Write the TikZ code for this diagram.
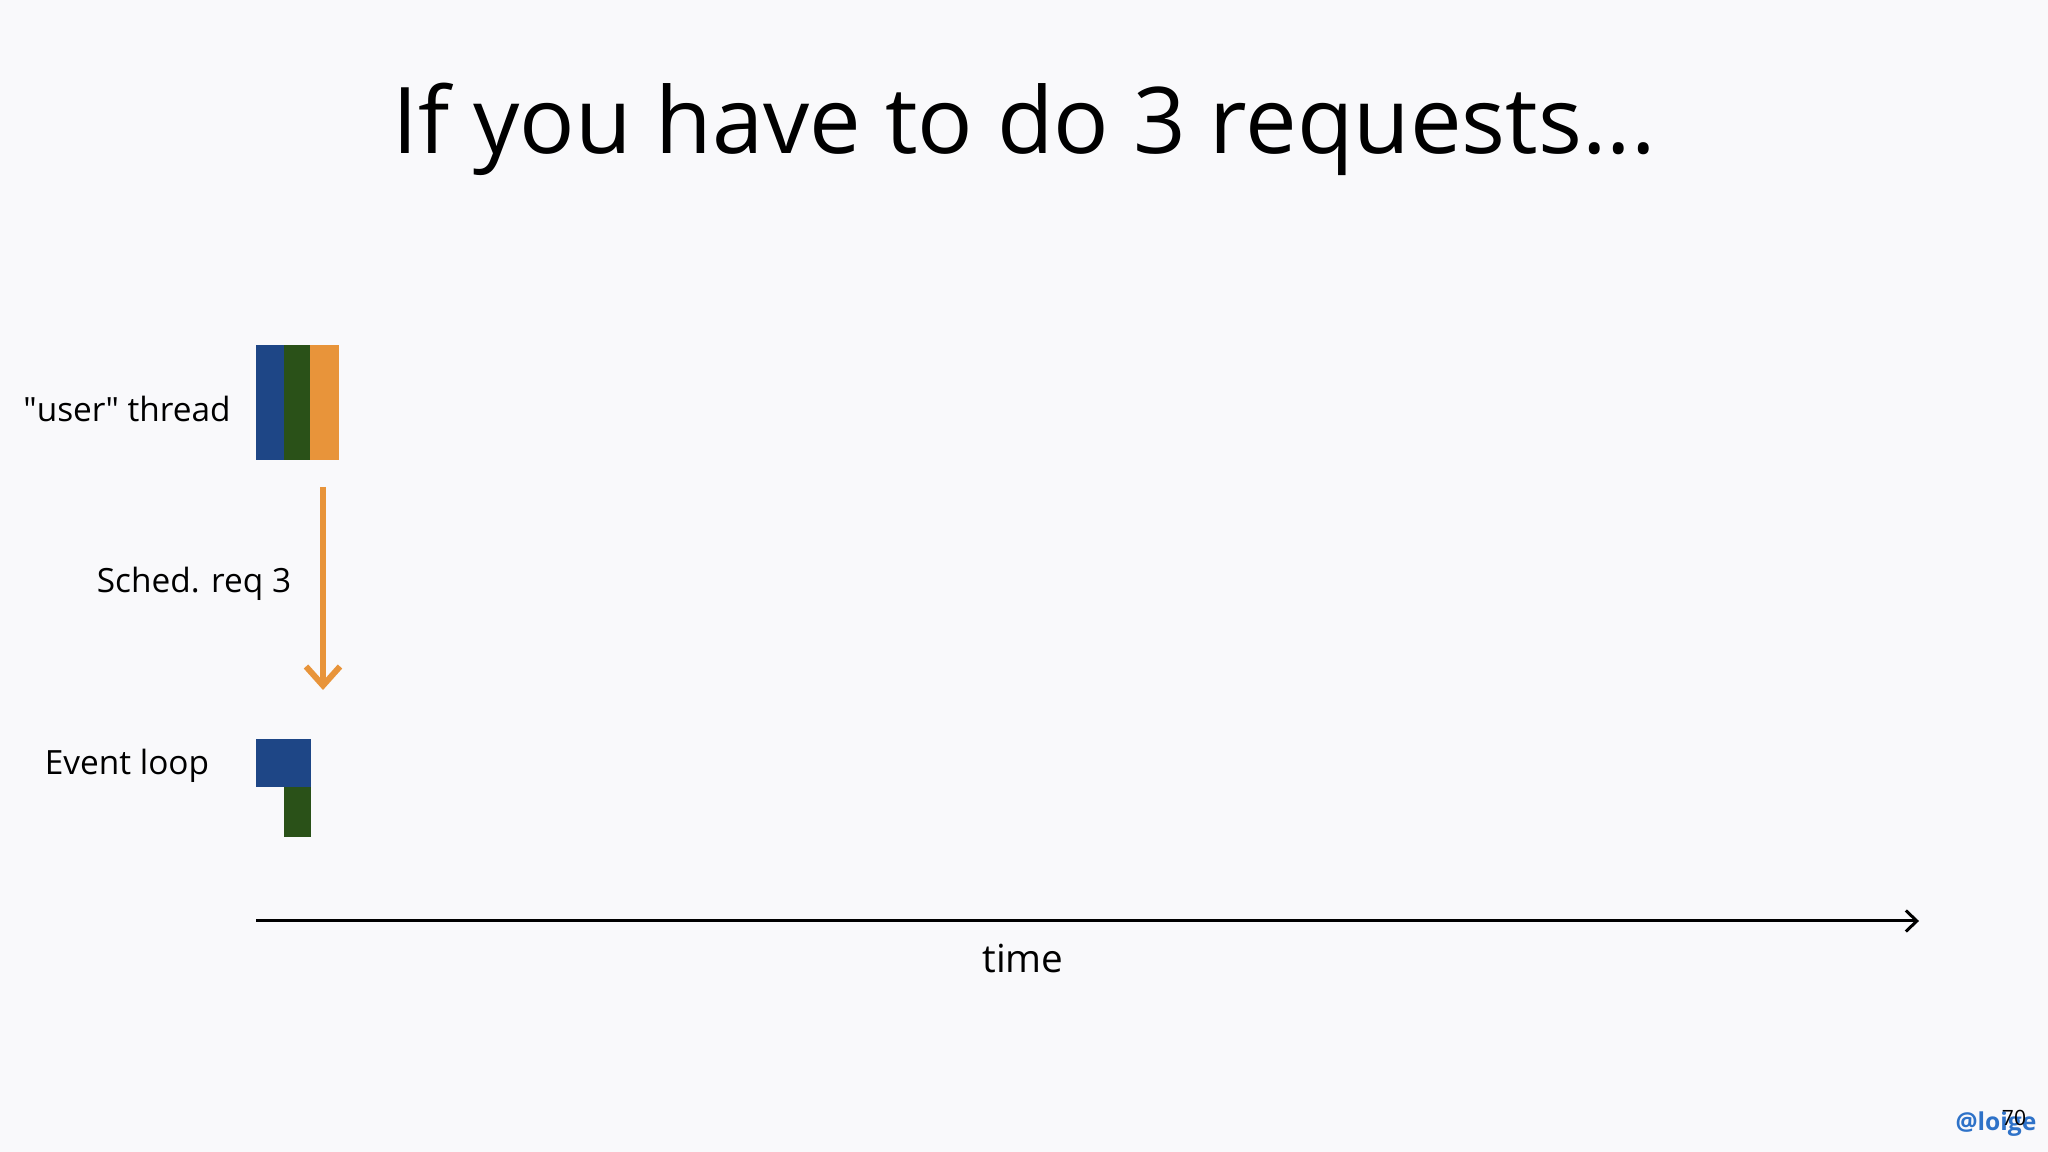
\documentclass[tikz,border=0pt]{standalone}
\usepackage{fontspec}
\setmainfont{Open Sans}
\usetikzlibrary{positioning, arrows.meta}

\definecolor{slidebg}{HTML}{F9F9FB}
\definecolor{reqblue}{HTML}{1E4686}
\definecolor{reqgreen}{HTML}{2A5118}
\definecolor{reqorange}{HTML}{E8943A}
\definecolor{handleblue}{HTML}{2E72C8}

\tikzset{
    label text/.style={font=\fontsize{9.5}{11}\selectfont, inner sep=0pt},
    sched arrow/.style={draw=reqorange, line width=0.6mm,
        -{Straight Barb[length=1.9mm, width=3.4mm, line width=0.6mm]}},
    time axis/.style={draw=black, line width=0.3mm,
        -{Straight Barb[length=1.1mm, width=2.1mm, line width=0.3mm]}}
}

\begin{document}
\begin{tikzpicture}[x=0.1mm, y=-0.1mm]
    \useasboundingbox[fill=slidebg] (0,0) rectangle (2048,1152);

    \node[anchor=base, inner sep=0pt] (title) at (1024,154) {\fontsize{26.2}{32}\selectfont If you have to do 3 requests...};

    % user thread
    \node[label text] (user) at (127,409) {\textquotedbl user\textquotedbl{} thread};
    \fill[reqblue] (256,345) rectangle (284,460);
    \fill[reqgreen] (284,345) rectangle (310,460);
    \fill[reqorange] (310,345) rectangle (339,460);

    % scheduling
    \coordinate (schedtop) at (323,487);
    \coordinate (schedend) at (323,690);
    \node[label text] (sched) at (194,584) {Sched. req 3};
    \draw[sched arrow] (schedtop) -- (schedend);

    % event loop
    \node[label text] (loop) at (127,766) {Event loop};
    \fill[reqblue] (256,739) rectangle (311,787);
    \fill[reqgreen] (284,787) rectangle (311,837);

    % time
    \coordinate (t0) at (256,921);
    \coordinate (t1) at (1919,921);
    \draw[time axis] (t0) -- (t1);
    \node[label text, font=\fontsize{11}{13}\selectfont] (time) at (1023,959) {time};

    \node[font=\fontsize{7}{8}\selectfont\bfseries, text=handleblue, inner sep=0pt] (handle) at (1996,1124) {@loige};
    \node[font=\fontsize{6}{7}\selectfont, inner sep=0pt] (page) at (2014,1118) {70};
\end{tikzpicture}
\end{document}
